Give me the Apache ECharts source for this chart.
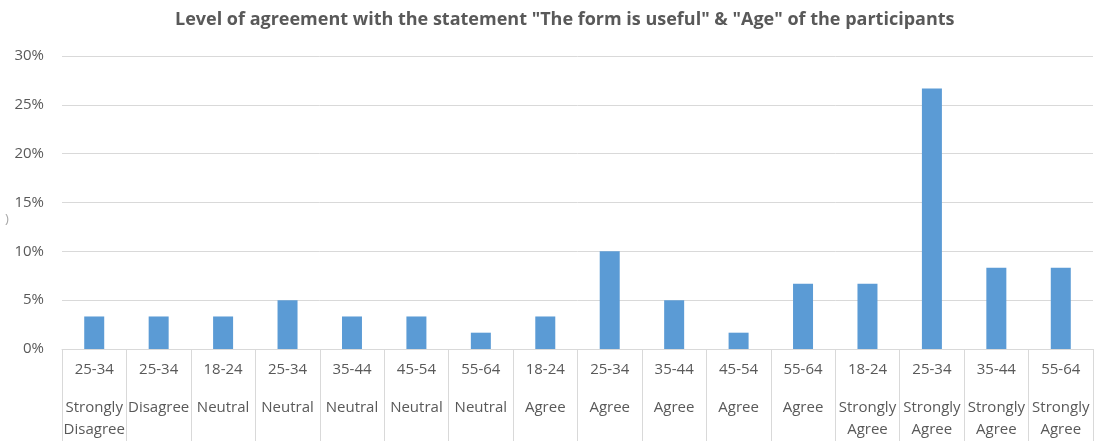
<!DOCTYPE html>
<html>
<head>
<meta charset="utf-8">
<script src="https://cdn.jsdelivr.net/npm/echarts@6/dist/echarts.min.js"></script>
<style>
  html, body { margin: 0; padding: 0; background: #ffffff; }
  #chart { width: 1099px; height: 441px; }
</style>
</head>
<body>
<div id="chart"></div>
<script>
// Age group of each bar (first label row)
const ageGroups = ['25-34', '25-34', '18-24', '25-34', '35-44', '45-54', '55-64', '18-24',
                   '25-34', '35-44', '45-54', '55-64', '18-24', '25-34', '35-44', '55-64'];
// Agreement level of each bar (second label row)
const agreement = ['Strongly\nDisagree', 'Disagree', 'Neutral', 'Neutral', 'Neutral', 'Neutral', 'Neutral', 'Agree',
                   'Agree', 'Agree', 'Agree', 'Agree', 'Strongly\nAgree', 'Strongly\nAgree', 'Strongly\nAgree', 'Strongly\nAgree'];
// Share of participants, in percent
const shares = [3.33, 3.33, 3.33, 5.00, 3.33, 3.33, 1.67, 3.33,
                10.00, 5.00, 1.67, 6.67, 6.67, 26.67, 8.33, 8.33];
const yTicks = [0, 5, 10, 15, 20, 25, 30];

const categoryKeys = ageGroups.map((a, i) => i + '');
const fontFamily = '"Open Sans", "Noto Sans", sans-serif';
const textColor = '#595959';
const lineColor = '#D9D9D9';

const chart = echarts.init(document.getElementById('chart'));
chart.setOption({
  animation: false,
  backgroundColor: '#ffffff',
  title: {
    text: 'Level of agreement with the statement "The form is useful" & "Age" of the participants',
    left: 170,
    top: 6,
    textStyle: { fontFamily, fontSize: 18, fontWeight: 'bold', color: textColor }
  },
  graphic: [{
    type: 'text', left: 5, top: 213,
    style: { text: ')', fill: '#a6a6a6', font: '13px ' + fontFamily }
  }],
  grid: { left: 62, right: 6, top: 56, bottom: 92, containLabel: false },
  xAxis: [
    {
      type: 'category',
      data: categoryKeys,
      position: 'bottom',
      axisLine: { show: true, lineStyle: { color: lineColor, width: 1 } },
      axisTick: { show: true, length: 92, interval: 0, lineStyle: { color: lineColor, width: 1 } },
      axisLabel: {
        interval: 0, margin: 13,
        formatter: (v) => ageGroups[+v],
        fontFamily, fontSize: 15, color: textColor
      },
      splitLine: { show: false }
    },
    {
      type: 'category',
      data: categoryKeys,
      position: 'bottom',
      offset: 0,
      axisLine: { show: false },
      axisTick: { show: false },
      axisLabel: {
        interval: 0, margin: 48, lineHeight: 22, verticalAlign: 'top',
        formatter: (v) => agreement[+v],
        fontFamily, fontSize: 15, color: textColor
      },
      splitLine: { show: false }
    }
  ],
  yAxis: {
    type: 'value',
    min: yTicks[0],
    max: yTicks[yTicks.length - 1],
    interval: yTicks[1] - yTicks[0],
    axisLine: { show: false },
    axisTick: { show: false },
    axisLabel: {
      margin: 18,
      formatter: (v) => v + '%',
      fontFamily, fontSize: 15, color: textColor
    },
    splitLine: { show: true, lineStyle: { color: lineColor, width: 1 } }
  },
  series: [{
    type: 'bar',
    xAxisIndex: 0,
    data: shares,
    barWidth: 20,
    itemStyle: { color: '#5B9BD5' }
  }]
});
</script>
</body>
</html>
